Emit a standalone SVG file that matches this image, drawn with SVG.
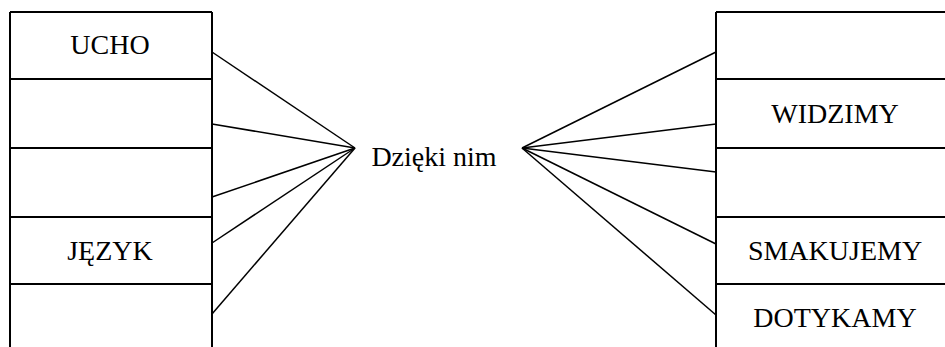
<svg xmlns="http://www.w3.org/2000/svg" width="945" height="347" viewBox="0 0 945 347">
  <style>
    .cell { fill: none; stroke: #000; stroke-width: 2; }
    .link { fill: none; stroke: #000; stroke-width: 1.5; }
    text { font-family: "Liberation Serif", serif; font-size: 28px; fill: #000; text-anchor: middle; }
  </style>
  <rect width="945" height="347" fill="#fff"/>

  <!-- left column -->
  <g id="left-1"><path class="cell" d="M10 12 H212 M10 12 V79 M212 12 V79"/><text x="110" y="54">UCHO</text></g>
  <g id="left-2"><path class="cell" d="M10 79 H212 M10 79 V148 M212 79 V148"/></g>
  <g id="left-3"><path class="cell" d="M10 148 H212 M10 148 V217 M212 148 V217"/></g>
  <g id="left-4"><path class="cell" d="M10 217 H212 M10 217 V284 M212 217 V284"/><text x="110" y="260">JĘZYK</text></g>
  <g id="left-5"><path class="cell" d="M10 284 H212 M10 284 V348 M212 284 V348"/></g>

  <!-- centre label -->
  <g id="centre"><text x="434" y="166">Dzięki nim</text></g>

  <!-- right column -->
  <g id="right-1"><path class="cell" d="M716 12 H950 M716 12 V79"/></g>
  <g id="right-2"><path class="cell" d="M716 79 H950 M716 79 V148"/><text x="835" y="123">WIDZIMY</text></g>
  <g id="right-3"><path class="cell" d="M716 148 H950 M716 148 V217"/></g>
  <g id="right-4"><path class="cell" d="M716 217 H950 M716 217 V284"/><text x="835" y="260">SMAKUJEMY</text></g>
  <g id="right-5"><path class="cell" d="M716 284 H950 M716 284 V348"/><text x="835" y="327">DOTYKAMY</text></g>

  <!-- connectors -->
  <g id="connectors">
    <line class="link" x1="212" y1="52" x2="355" y2="148"/>
    <line class="link" x1="212" y1="124" x2="355" y2="148"/>
    <line class="link" x1="212" y1="197" x2="355" y2="148"/>
    <line class="link" x1="212" y1="243" x2="355" y2="148"/>
    <line class="link" x1="212" y1="314" x2="355" y2="148"/>
    <line class="link" x1="522" y1="148" x2="716" y2="52"/>
    <line class="link" x1="522" y1="148" x2="716" y2="124"/>
    <line class="link" x1="522" y1="148" x2="716" y2="172"/>
    <line class="link" x1="522" y1="148" x2="716" y2="244"/>
    <line class="link" x1="522" y1="148" x2="716" y2="315"/>
  </g>
</svg>
